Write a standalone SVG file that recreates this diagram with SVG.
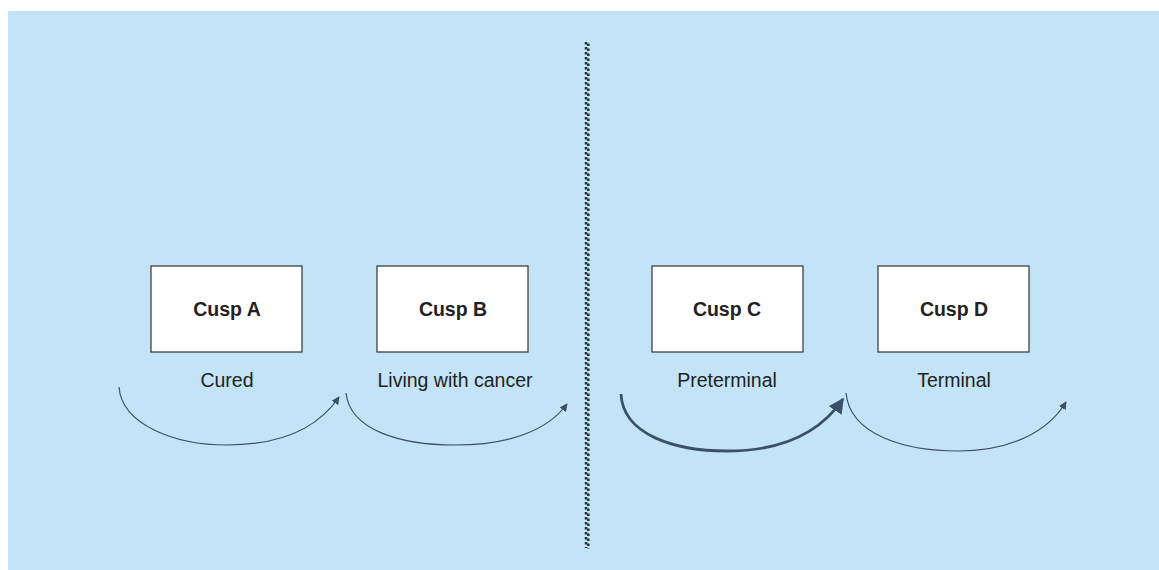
<svg xmlns="http://www.w3.org/2000/svg" width="1159" height="570" viewBox="0 0 1159 570">
<defs>
<style>
.box{fill:#ffffff;stroke:#333333;stroke-width:1.2}
.title{font-family:"Liberation Sans",Arial,sans-serif;font-weight:bold;font-size:19.5px;fill:#222222;text-anchor:middle}
.lbl{font-family:"Liberation Sans",Arial,sans-serif;font-size:19.5px;fill:#222222;text-anchor:middle}
.arc{fill:none;stroke:#3b5068;stroke-width:1.2}
.arc-bold{fill:none;stroke:#3b5068;stroke-width:2.8}
.div{stroke:#2a2f36;stroke-width:2.5;stroke-dasharray:2.5 2.5}
</style>
<marker id="ah" viewBox="0 0 10 10" refX="9" refY="5" markerWidth="8" markerHeight="8" markerUnits="userSpaceOnUse" orient="auto">
<path d="M0,0 L10,5 L0,10 z" fill="#3b5068"/>
</marker>
<marker id="ahb" viewBox="0 0 10 10" refX="9" refY="5" markerWidth="5.5" markerHeight="5.5" orient="auto">
<path d="M0,0 L10,5 L0,10 z" fill="#3b5068"/>
</marker>
</defs>
<rect x="8" y="11" width="1151" height="559" fill="#c3e4f6"/>
<g id="divider">
<line class="div" x1="586" y1="42" x2="586" y2="548"/>
<line class="div" x1="588.3" y1="43.5" x2="588.3" y2="549" />
</g>
<g id="cuspA">
<rect class="box" x="151" y="266" width="151" height="86"/>
<text class="title" x="227" y="316">Cusp A</text>
<text class="lbl" x="227" y="387">Cured</text>
</g>
<g id="cuspB">
<rect class="box" x="377" y="266" width="151" height="86"/>
<text class="title" x="453" y="316">Cusp B</text>
<text class="lbl" x="455" y="387">Living with cancer</text>
</g>
<g id="cuspC">
<rect class="box" x="652" y="266" width="151" height="86"/>
<text class="title" x="727" y="316">Cusp C</text>
<text class="lbl" x="727" y="387">Preterminal</text>
</g>
<g id="cuspD">
<rect class="box" x="878" y="266" width="151" height="86"/>
<text class="title" x="954" y="316">Cusp D</text>
<text class="lbl" x="954" y="387">Terminal</text>
</g>
<g id="connectors">
<path class="arc" marker-end="url(#ah)" d="M119,387 C122,425 175,445 227,445 C280,445 318,428 339,397"/>
<path class="arc" marker-end="url(#ah)" d="M346,393 C350,430 400,445 455,445 C510,445 548,430 567,404"/>
<path class="arc-bold" marker-end="url(#ahb)" d="M621,394 C623,435 675,451 727,451 C785,451 822,430 843,399"/>
<path class="arc" marker-end="url(#ah)" d="M846,393 C850,435 905,451 958,451 C1010,451 1048,432 1066,402"/>
</g>
</svg>
